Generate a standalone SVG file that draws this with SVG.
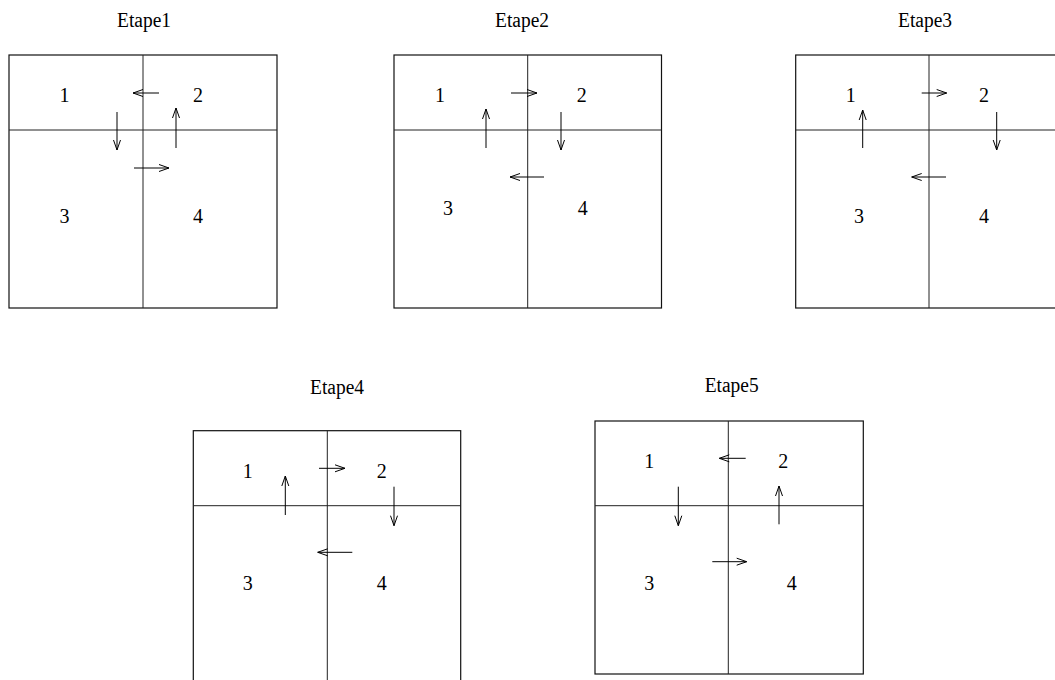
<svg xmlns="http://www.w3.org/2000/svg" width="1055" height="680" viewBox="0 0 1055 680">
<style>
.box{fill:none;stroke:#111;stroke-width:1.2}
.div{fill:none;stroke:#222;stroke-width:1}
.t{font-family:"Liberation Serif","Times New Roman",serif;font-size:20px;fill:#000;text-anchor:middle}
.a{fill:none;stroke:#000;stroke-width:1;marker-end:url(#v)}
</style>
<defs>
<marker id="v" markerUnits="userSpaceOnUse" markerWidth="14" markerHeight="10" viewBox="-12 -5 14 10" refX="0" refY="0" orient="auto">
<path d="M-10,-3.5 L0,0 L-10,3.5" fill="none" stroke="#000" stroke-width="1"/>
</marker>
</defs>
<rect width="1055" height="680" fill="#fff"/>

<g id="etape1">
<text class="t" x="144" y="27" textLength="54" lengthAdjust="spacingAndGlyphs">Etape1</text>
<rect class="box" x="9" y="55" width="268" height="253" stroke-width="1.4"/>
<line class="div" x1="143" y1="55" x2="143" y2="308"/>
<line class="div" x1="9" y1="130" x2="277" y2="130"/>
<text class="t" x="64.5" y="102">1</text>
<text class="t" x="198" y="102">2</text>
<text class="t" x="64.5" y="223">3</text>
<text class="t" x="198" y="223">4</text>
</g>

<g id="etape2">
<text class="t" x="522" y="27" textLength="54" lengthAdjust="spacingAndGlyphs">Etape2</text>
<rect class="box" x="394" y="55" width="267.5" height="253"/>
<line class="div" x1="527.7" y1="55" x2="527.7" y2="308"/>
<line class="div" x1="394" y1="130" x2="661.5" y2="130"/>
<text class="t" x="440" y="102">1</text>
<text class="t" x="581.7" y="102">2</text>
<text class="t" x="448" y="215">3</text>
<text class="t" x="582.7" y="215">4</text>
</g>

<g id="etape3">
<text class="t" x="925" y="27" textLength="54" lengthAdjust="spacingAndGlyphs">Etape3</text>
<rect class="box" x="795.7" y="55" width="268" height="253"/>
<line class="div" x1="929" y1="55" x2="929" y2="308"/>
<line class="div" x1="795.7" y1="130" x2="1063" y2="130"/>
<text class="t" x="850.7" y="102">1</text>
<text class="t" x="984" y="102">2</text>
<text class="t" x="859" y="222.7">3</text>
<text class="t" x="984" y="222.7">4</text>
</g>

<g id="etape4">
<text class="t" x="337" y="394" textLength="54" lengthAdjust="spacingAndGlyphs">Etape4</text>
<rect class="box" x="193.3" y="430.7" width="267.4" height="260"/>
<line class="div" x1="327.3" y1="430.7" x2="327.3" y2="690"/>
<line class="div" x1="193.3" y1="505.7" x2="460.7" y2="505.7"/>
<text class="t" x="247.7" y="478.3">1</text>
<text class="t" x="381.7" y="478.3">2</text>
<text class="t" x="247.7" y="590">3</text>
<text class="t" x="381.7" y="590">4</text>
</g>

<g id="etape5">
<text class="t" x="731.7" y="392.3" textLength="54" lengthAdjust="spacingAndGlyphs">Etape5</text>
<rect class="box" x="595" y="421" width="268.3" height="253"/>
<line class="div" x1="728.3" y1="421" x2="728.3" y2="674"/>
<line class="div" x1="595" y1="505.7" x2="863.3" y2="505.7"/>
<text class="t" x="649.3" y="467.7">1</text>
<text class="t" x="783.3" y="467.7">2</text>
<text class="t" x="649.3" y="590">3</text>
<text class="t" x="791.7" y="590">4</text>
</g>

<g id="connectors">
<line class="a" x1="159" y1="93" x2="133" y2="93"/>
<line class="a" x1="117" y1="112" x2="117" y2="150"/>
<line class="a" x1="176" y1="148" x2="176" y2="108"/>
<line class="a" x1="134" y1="168" x2="169" y2="168"/>

<line class="a" x1="511" y1="93" x2="537" y2="93"/>
<line class="a" x1="486" y1="148" x2="486" y2="109"/>
<line class="a" x1="561" y1="112" x2="561" y2="150"/>
<line class="a" x1="544" y1="177" x2="510" y2="177"/>

<line class="a" x1="921.7" y1="93" x2="946.7" y2="93"/>
<line class="a" x1="862.7" y1="148" x2="862.7" y2="110"/>
<line class="a" x1="996.7" y1="112" x2="996.7" y2="150"/>
<line class="a" x1="946" y1="177" x2="911.7" y2="177"/>

<line class="a" x1="319" y1="468.3" x2="345" y2="468.3"/>
<line class="a" x1="285.3" y1="515" x2="285.3" y2="476"/>
<line class="a" x1="394" y1="486.7" x2="394" y2="525.7"/>
<line class="a" x1="352.3" y1="552.3" x2="317.7" y2="552.3"/>

<line class="a" x1="745.7" y1="458.3" x2="719.3" y2="458.3"/>
<line class="a" x1="678.3" y1="486.7" x2="678.3" y2="525.7"/>
<line class="a" x1="779" y1="524.3" x2="779" y2="486"/>
<line class="a" x1="712.3" y1="561.7" x2="746.7" y2="561.7"/>
</g>
</svg>
